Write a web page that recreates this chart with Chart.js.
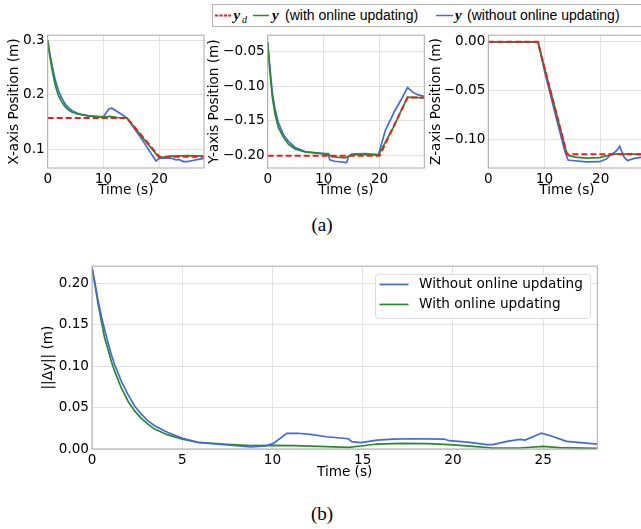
<!DOCTYPE html>
<html>
<head>
<meta charset="utf-8">
<script src="https://cdn.jsdelivr.net/npm/chart.js@4.4.1/dist/chart.umd.min.js"></script>
<style>
  html, body { margin: 0; padding: 0; background: #fff; overflow: hidden; }
  body { width: 641px; height: 529px; position: relative; }
  canvas { position: absolute; }
  .caption {
    position: absolute; width: 60px; text-align: center;
    font-family: "Liberation Serif", serif; font-size: 19px; color: #000;
  }
  svg { position: absolute; left: 0; top: 0; }
</style>
</head>
<body>
<svg width="641" height="30">
  <rect x="212.5" y="4.5" width="440" height="22" fill="#fff" stroke="#b5b5b5" stroke-width="1"/>
  <line x1="215" y1="15.5" x2="231" y2="15.5" stroke="#ee1c1c" stroke-width="1.8" stroke-dasharray="3.2 1.2"/>
  <text x="233.5" y="20" font-family="Liberation Serif" font-weight="bold" font-style="italic" font-size="15">y</text>
  <text x="242" y="22.5" font-family="Liberation Serif" font-style="italic" font-size="10">d</text>
  <line x1="253" y1="15.5" x2="269" y2="15.5" stroke="#2a8a2a" stroke-width="1.5"/>
  <text x="272" y="20" font-family="Liberation Serif" font-weight="bold" font-style="italic" font-size="15">y</text>
  <text x="285" y="20" font-family="Liberation Sans" font-size="14">(with online updating)</text>
  <line x1="436" y1="15.5" x2="453" y2="15.5" stroke="#4169e1" stroke-width="1.5"/>
  <text x="455" y="20" font-family="Liberation Serif" font-weight="bold" font-style="italic" font-size="15">y</text>
  <text x="467" y="20" font-family="Liberation Sans" font-size="14">(without online updating)</text>
</svg>

<canvas id="xpos" width="207" height="175" style="left:0px; top:24px;"></canvas>
<canvas id="ypos" width="222" height="175" style="left:204px; top:24px;"></canvas>
<canvas id="zpos" width="222" height="175" style="left:426px; top:24px;"></canvas>
<div class="caption" style="left:292px; top:214px;">(a)</div>

<canvas id="err" width="570" height="226" style="left:30px; top:255px;"></canvas>
<div class="caption" style="left:292px; top:503px;">(b)</div>

<script>
// ---- data ----

// panel (a): X position
const xRefT = [0, 14.2, 20, 28];
const xRef = [0.157, 0.157, 0.086, 0.086];
const xWithT = [0, 0.24, 0.48, 0.71, 1.0, 1.3, 1.6, 1.9, 2.5, 3.1, 3.7, 4.3, 5.5, 7.3, 9.6, 10.5, 11.2, 12.5, 14.2, 17, 20, 22, 25, 28];
const xWith = [0.300, 0.280, 0.265, 0.250, 0.235, 0.220, 0.209, 0.199, 0.187, 0.178, 0.172, 0.168, 0.164, 0.161, 0.159, 0.159, 0.160, 0.158, 0.157, 0.121, 0.084, 0.087, 0.088, 0.087];
const xWithoutT = [0, 0.24, 0.48, 0.71, 1.0, 1.3, 1.6, 1.9, 2.5, 3.1, 3.7, 4.3, 5.5, 7.3, 9.6, 10, 10.5, 11, 11.5, 12.3, 13.2, 14.2, 17, 19.4, 20, 21, 22.3, 23, 23.5, 24.3, 25, 26, 27, 28];
const xWithout = [0.300, 0.283, 0.270, 0.257, 0.243, 0.229, 0.218, 0.208, 0.194, 0.183, 0.176, 0.171, 0.165, 0.161, 0.159, 0.160, 0.167, 0.174, 0.175, 0.170, 0.164, 0.157, 0.116, 0.078, 0.083, 0.084, 0.083, 0.080, 0.081, 0.077, 0.077, 0.079, 0.081, 0.083];

// panel (a): Y position
const yRefT = [0, 20, 25, 28];
const yRef = [-0.201, -0.201, -0.1165, -0.1165];
const yWithT = [0, 0.24, 0.5, 0.83, 1.3, 1.9, 2.8, 3.7, 4.9, 6.7, 9.6, 10.8, 11.4, 13.8, 15, 16.2, 19.8, 22.5, 25, 28];
const yWith = [-0.036, -0.064, -0.088, -0.116, -0.140, -0.160, -0.174, -0.184, -0.191, -0.1956, -0.198, -0.198, -0.2025, -0.204, -0.200, -0.199, -0.200, -0.159, -0.116, -0.117];
const yWithoutT = [0, 0.24, 0.5, 0.83, 1.3, 1.9, 2.8, 3.7, 4.9, 6.7, 9.6, 10.8, 11.1, 12, 14.1, 14.4, 15, 17.4, 19.8, 21, 22.7, 23.9, 25, 26, 26.9, 28];
const yWithout = [-0.036, -0.060, -0.082, -0.110, -0.133, -0.153, -0.170, -0.180, -0.189, -0.195, -0.1975, -0.199, -0.207, -0.209, -0.211, -0.2025, -0.1985, -0.198, -0.1995, -0.165, -0.136, -0.119, -0.102, -0.109, -0.1127, -0.1146];

// panel (a): Z position
const zRefT = [0, 8.8, 14, 28];
const zRef = [0, 0, -0.1155, -0.1155];
const zWithT = [0, 8.8, 14, 14.4, 15.5, 17.4, 19.8, 21.5, 22.2, 25, 28];
const zWith = [0, 0, -0.1155, -0.117, -0.1185, -0.1195, -0.119, -0.1164, -0.1155, -0.1155, -0.1158];
const zWithoutT = [0, 8.9, 10, 12, 13.6, 14.2, 15, 17.4, 19.8, 21, 21.8, 22.7, 23.1, 23.4, 23.7, 24.2, 24.8, 26, 27.2, 28];
const zWithout = [0, 0, -0.030, -0.076, -0.112, -0.1215, -0.122, -0.1235, -0.1232, -0.1205, -0.116, -0.1126, -0.110, -0.1074, -0.112, -0.1188, -0.122, -0.1198, -0.1188, -0.1185];

// panel (b): tracking error norm
const errWithoutT = [0, 0.15, 0.33, 0.52, 0.7, 0.89, 1.07, 1.25, 1.62, 1.99, 2.36, 2.73, 3.1, 3.47, 4.2, 5.02, 5.87, 7.5, 8.8, 9.6, 10.05, 10.8, 11.4, 12.1, 13.0, 14.2, 14.4, 14.9, 15.8, 16.7, 17.6, 19.5, 19.8, 20.8, 21.9, 22.2, 23.0, 23.7, 24.0, 24.9, 25.4, 26.3, 28];
const errWithout = [0.219, 0.202, 0.180, 0.160, 0.144, 0.128, 0.114, 0.102, 0.082, 0.066, 0.052, 0.042, 0.034, 0.028, 0.020, 0.013, 0.008, 0.0048, 0.0024, 0.0036, 0.0068, 0.0188, 0.019, 0.0176, 0.0148, 0.0124, 0.0088, 0.0076, 0.0108, 0.012, 0.0124, 0.012, 0.010, 0.0084, 0.0052, 0.0052, 0.0092, 0.0116, 0.0108, 0.0192, 0.016, 0.0092, 0.006];
const errWithT = [0, 0.15, 0.33, 0.52, 0.7, 0.89, 1.07, 1.25, 1.62, 1.99, 2.36, 2.73, 3.1, 3.47, 4.2, 5.02, 5.87, 7.5, 8.8, 10, 11.2, 13, 14.2, 14.9, 15.8, 17.1, 18.6, 19.8, 21.3, 22.2, 23.7, 25, 25.9, 28];
const errWith = [0.219, 0.200, 0.176, 0.154, 0.134, 0.120, 0.106, 0.094, 0.074, 0.058, 0.046, 0.037, 0.030, 0.024, 0.017, 0.012, 0.008, 0.0056, 0.004, 0.0044, 0.004, 0.0028, 0.002, 0.0036, 0.006, 0.0068, 0.0064, 0.0052, 0.0028, 0.0012, 0.0012, 0.0032, 0.0016, 0.0008];

// tick values and labels
const timeTicksA = [0, 10, 20];
const timeLabelsA = ["0", "10", "20"];
const xPosTicks = [0.1, 0.2, 0.3];
const xPosLabels = ["0.1", "0.2", "0.3"];
const yPosTicks = [-0.20, -0.15, -0.10, -0.05];
const yPosLabels = ["\u22120.20", "\u22120.15", "\u22120.10", "\u22120.05"];
const zPosTicks = [-0.10, -0.05, 0];
const zPosLabels = ["\u22120.10", "\u22120.05", "0.00"];
const timeTicksB = [0, 5, 10, 15, 20, 25];
const timeLabelsB = ["0", "5", "10", "15", "20", "25"];
const errTicks = [0, 0.05, 0.10, 0.15, 0.20];
const errLabels = ["0.00", "0.05", "0.10", "0.15", "0.20"];

const RED = "#ee1c1c";
const GREEN = "#2a8a2a";
const BLUE = "#4169e1";
const GRID = "#e2e2e2";
const FONT = { family: "DejaVu Sans", size: 13.6, lineHeight: 1.2 };

function zip(ts, vs) {
  return ts.map((t, i) => ({ x: t, y: vs[i] }));
}

// grey frame round the plotting area (matplotlib spines)
const framePlugin = {
  id: "frame",
  afterDatasetsDraw(chart) {
    const a = chart.chartArea;
    const ctx = chart.ctx;
    ctx.save();
    ctx.strokeStyle = "#a8a8a8";
    ctx.lineWidth = 1;
    ctx.strokeRect(a.left, a.top, a.right - a.left, a.bottom - a.top);
    ctx.restore();
  },
};

// legend box drawn inside the plot, upper right
const boxLegendPlugin = {
  id: "boxLegend",
  afterDraw(chart, args, opts) {
    if (!opts.show) return;
    const a = chart.chartArea;
    const ctx = chart.ctx;
    const w = opts.width, h = opts.height;
    const left = a.right - opts.right - w;
    const top = a.top + opts.top;
    ctx.save();
    ctx.fillStyle = "rgba(255,255,255,0.85)";
    ctx.strokeStyle = "#dcdcdc";
    ctx.lineWidth = 1;
    ctx.beginPath();
    ctx.roundRect(left + 0.5, top + 0.5, w, h, 3);
    ctx.fill();
    ctx.stroke();
    ctx.font = "13.6px 'DejaVu Sans'";
    ctx.textBaseline = "middle";
    chart.data.datasets.forEach((ds, i) => {
      const y = top + 10.6 + i * 20;
      ctx.strokeStyle = ds.borderColor;
      ctx.lineWidth = ds.borderWidth;
      ctx.beginPath();
      ctx.moveTo(left + 4.5, y);
      ctx.lineTo(left + 33.5, y);
      ctx.stroke();
      ctx.fillStyle = "#000";
      ctx.fillText(ds.label, left + 44, y + 0.5);
    });
    ctx.restore();
  },
};

function lineSet(label, data, color, width, dashed) {
  return {
    label: label,
    data: data,
    borderColor: color,
    borderWidth: width,
    borderDash: dashed ? [6, 3] : [],
    pointRadius: 0,
    fill: false,
    tension: 0,
  };
}

function axis(ticks, labels, fixSize, title, titlePad, range) {
  return {
    type: "linear",
    min: range[0],
    max: range[1],
    border: { display: false },
    grid: { color: GRID, lineWidth: 1, drawTicks: false },
    afterBuildTicks: (scale) => {
      scale.ticks = ticks.map((v) => ({ value: v }));
    },
    afterFit: fixSize,
    ticks: {
      autoSkip: false,
      maxRotation: 0,
      padding: 3,
      color: "#000",
      font: FONT,
      callback: (value, index) => labels[index],
    },
    title: {
      display: true,
      text: title,
      color: "#000",
      font: FONT,
      padding: titlePad,
    },
  };
}

function makeChart(id, datasets, opts) {
  return new Chart(document.getElementById(id), {
    type: "line",
    data: { datasets: datasets },
    options: {
      responsive: false,
      animation: false,
      devicePixelRatio: 1,
      layout: { padding: { top: 10, right: opts.padRight, left: 0, bottom: 0 } },
      plugins: {
        legend: { display: false },
        tooltip: { enabled: false },
        boxLegend: opts.legend || { show: false },
      },
      scales: {
        x: axis(opts.xTicks, opts.xLabels, (s) => { s.height = opts.xHeight; },
          "Time (s)", { top: 0, bottom: 0 }, opts.xRange),
        y: axis(opts.yTicks, opts.yLabels, (s) => { s.width = opts.yWidth; },
          opts.yTitle, { top: opts.yTitlePad, bottom: 0 }, opts.yRange),
      },
    },
    plugins: [framePlugin, boxLegendPlugin],
  });
}

// ---- panel (a) ----
makeChart("xpos", [
  lineSet("y_d", zip(xRefT, xRef), RED, 2, true),
  lineSet("with", zip(xWithT, xWith), GREEN, 1.7, false),
  lineSet("without", zip(xWithoutT, xWithout), BLUE, 1.7, false),
], {
  xTicks: timeTicksA, xLabels: timeLabelsA, xRange: [0, 28], xHeight: 31,
  yTicks: xPosTicks, yLabels: xPosLabels, yRange: [0.0653, 0.3091],
  yWidth: 47.7, yTitle: "X-axis Position (m)", yTitlePad: 6.8, padRight: 3,
});

makeChart("ypos", [
  lineSet("y_d", zip(yRefT, yRef), RED, 2, true),
  lineSet("with", zip(yWithT, yWith), GREEN, 1.7, false),
  lineSet("without", zip(yWithoutT, yWithout), BLUE, 1.7, false),
], {
  xTicks: timeTicksA, xLabels: timeLabelsA, xRange: [0, 28], xHeight: 31,
  yTicks: yPosTicks, yLabels: yPosLabels, yRange: [-0.2188, -0.0259],
  yWidth: 63.7, yTitle: "Y-axis Position (m)", yTitlePad: 2.3, padRight: 1.7,
});

makeChart("zpos", [
  lineSet("y_d", zip(zRefT, zRef), RED, 2, true),
  lineSet("with", zip(zWithT, zWith), GREEN, 1.7, false),
  lineSet("without", zip(zWithoutT, zWithout), BLUE, 1.7, false),
], {
  xTicks: timeTicksA, xLabels: timeLabelsA, xRange: [0, 28], xHeight: 31,
  yTicks: zPosTicks, yLabels: zPosLabels, yRange: [-0.1297, 0.0068],
  yWidth: 62.3, yTitle: "Z-axis Position (m)", yTitlePad: 2.8, padRight: 2.4,
});

// ---- panel (b) ----
makeChart("err", [
  lineSet("Without online updating", zip(errWithoutT, errWithout), BLUE, 1.7, false),
  lineSet("With online updating", zip(errWithT, errWith), GREEN, 1.7, false),
], {
  xTicks: timeTicksB, xLabels: timeLabelsB, xRange: [0, 28], xHeight: 32,
  yTicks: errTicks, yLabels: errLabels, yRange: [0, 0.2207],
  yWidth: 62, yTitle: "||\u0394y|| (m)", yTitlePad: 10.8, padRight: 2.7,
  legend: { show: true, width: 215, height: 44, right: 7.3, top: 7.7 },
});
</script>
</body>
</html>
